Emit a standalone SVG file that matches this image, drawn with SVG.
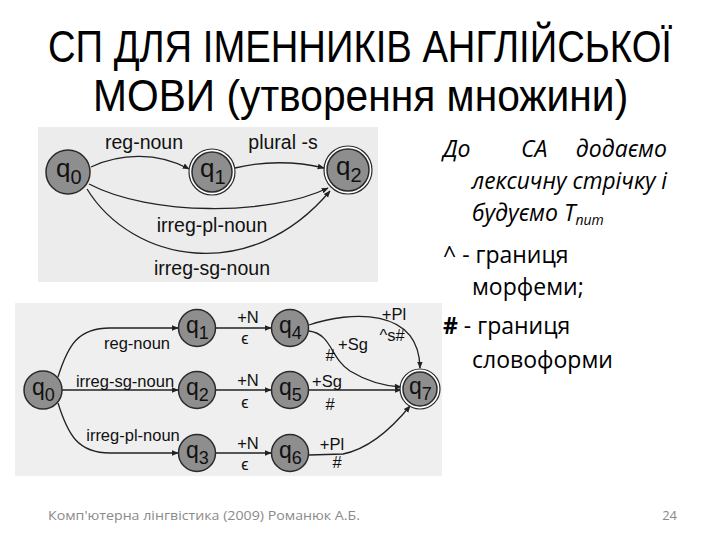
<svg xmlns="http://www.w3.org/2000/svg" width="720" height="540" viewBox="0 0 720 540">
<defs>
<marker id="ah" viewBox="0 0 10 10" refX="9" refY="5" markerWidth="7" markerHeight="7" markerUnits="userSpaceOnUse" orient="auto">
<path d="M0,1 L10,5 L0,9 z" fill="#222"/>
</marker>
<style>
.title{font-family:"Liberation Sans",Arial,sans-serif;font-size:45px;fill:#000}
.body{font-family:"Open Sans","Liberation Sans",sans-serif;font-size:23px;fill:#000}
.it{font-style:italic}
.foot{font-family:"Open Sans","Liberation Sans",sans-serif;font-size:13px;fill:#8a8a8a}
.lbl{font-family:"Liberation Sans",Arial,sans-serif;fill:#111}
.t1{font-size:19.5px}
.t2{font-size:16.5px}
.node{fill:#8e8e8e;stroke:#2a2a2a;stroke-width:1.5}
.ring{fill:#ffffff;stroke:#2a2a2a;stroke-width:1.2}
.edge{fill:none;stroke:#222;stroke-width:1.3;marker-end:url(#ah)}
.q{font-family:"Liberation Sans",Arial,sans-serif;fill:#111}
</style>
</defs>
<rect width="720" height="540" fill="#ffffff"/>

<g id="title">
<text class="title" transform="translate(48,62) scale(0.8,1)" x="0" y="0" textLength="780" lengthAdjust="spacingAndGlyphs">СП ДЛЯ ІМЕННИКІВ АНГЛІЙСЬКОЇ</text>
<text class="title" transform="translate(93,111) scale(0.8,1)" x="0" y="0" textLength="669" lengthAdjust="spacingAndGlyphs">МОВИ (утворення множини)</text>
</g>

<!-- top automaton -->
<rect x="38" y="127" width="340" height="155" fill="#ececec"/>
<g id="top-connectors">
<path class="edge" d="M91,167 C120,153 158,152 189,169"/>
<path class="edge" d="M235,168 C262,161 296,161 324,168"/>
<path class="edge" d="M89,184 C150,216 270,216 328,188"/>
<path class="edge" d="M87,189 C132,262 250,286 330,191"/>
</g>
<g id="top-labels">
<text class="lbl t1" x="144" y="149" text-anchor="middle">reg-noun</text>
<text class="lbl t1" x="283" y="149" text-anchor="middle">plural -s</text>
<text class="lbl t1" x="212" y="232" text-anchor="middle">irreg-pl-noun</text>
<text class="lbl t1" x="212" y="275" text-anchor="middle">irreg-sg-noun</text>
</g>
<g id="A-q0">
<circle class="node" cx="68" cy="172" r="22"/>
<text class="q" x="56" y="177" font-size="26">q<tspan font-size="20" dy="7">0</tspan></text>
</g>
<g id="A-q1">
<circle class="ring" cx="212" cy="172" r="23"/>
<circle class="node" cx="212" cy="172" r="20"/>
<text class="q" x="200" y="177" font-size="26">q<tspan font-size="20" dy="7">1</tspan></text>
</g>
<g id="A-q2">
<circle class="ring" cx="348" cy="170" r="24"/>
<circle class="node" cx="348" cy="170" r="21"/>
<text class="q" x="336" y="175" font-size="26">q<tspan font-size="20" dy="7">2</tspan></text>
</g>

<!-- bottom transducer -->
<rect x="15" y="303" width="427" height="173" fill="#efefef"/>
<g id="bottom-connectors">
<path class="edge" d="M58,377 C68,345 78,328 110,328 L178,328"/>
<path class="edge" d="M62,390 L178,390"/>
<path class="edge" d="M58,403 C68,435 78,453 110,453 L178,453"/>
<path class="edge" d="M216,328 L271,328"/>
<path class="edge" d="M216,390 L271,390"/>
<path class="edge" d="M216,453 L271,453"/>
<path class="edge" d="M309,325 C350,311 419,307 420,368"/>
<path class="edge" d="M309,331 C332,334 330,358 350,371 C368,382 385,386 401,387"/>
<path class="edge" d="M309,390 L401,390"/>
<path class="edge" d="M309,455 L343,454 C368,449 392,428 410,406"/>
</g>
<g id="bottom-labels">
<text class="lbl t2" x="137" y="349" text-anchor="middle">reg-noun</text>
<text class="lbl t2" x="125" y="387" text-anchor="middle">irreg-sg-noun</text>
<text class="lbl t2" x="133" y="441" text-anchor="middle">irreg-pl-noun</text>
<text class="lbl t2" x="248" y="323" text-anchor="middle">+N</text>
<text class="lbl t2" x="245" y="344" text-anchor="middle">ϵ</text>
<text class="lbl t2" x="248" y="386" text-anchor="middle">+N</text>
<text class="lbl t2" x="245" y="408" text-anchor="middle">ϵ</text>
<text class="lbl t2" x="248" y="449" text-anchor="middle">+N</text>
<text class="lbl t2" x="245" y="470" text-anchor="middle">ϵ</text>
<text class="lbl t2" x="394" y="320" text-anchor="middle">+Pl</text>
<text class="lbl t2" x="392" y="341" text-anchor="middle">^s#</text>
<text class="lbl t2" x="353" y="350" text-anchor="middle">+Sg</text>
<text class="lbl t2" x="330" y="361" text-anchor="middle">#</text>
<text class="lbl t2" x="327" y="387" text-anchor="middle">+Sg</text>
<text class="lbl t2" x="330" y="410" text-anchor="middle">#</text>
<text class="lbl t2" x="332" y="450" text-anchor="middle">+Pl</text>
<text class="lbl t2" x="337" y="468" text-anchor="middle">#</text>
</g>
<g id="B-q0">
<circle class="node" cx="43" cy="390" r="19"/>
<text class="q" x="32" y="395" font-size="23">q<tspan font-size="18" dy="6">0</tspan></text>
</g>
<g id="B-q1">
<circle class="node" cx="197" cy="328" r="18.5"/>
<text class="q" x="186" y="333" font-size="23">q<tspan font-size="18" dy="6">1</tspan></text>
</g>
<g id="B-q2">
<circle class="node" cx="197" cy="390" r="18.5"/>
<text class="q" x="186" y="395" font-size="23">q<tspan font-size="18" dy="6">2</tspan></text>
</g>
<g id="B-q3">
<circle class="node" cx="197" cy="453" r="18.5"/>
<text class="q" x="186" y="458" font-size="23">q<tspan font-size="18" dy="6">3</tspan></text>
</g>
<g id="B-q4">
<circle class="node" cx="290" cy="328" r="18.5"/>
<text class="q" x="279" y="333" font-size="23">q<tspan font-size="18" dy="6">4</tspan></text>
</g>
<g id="B-q5">
<circle class="node" cx="290" cy="390" r="18.5"/>
<text class="q" x="279" y="395" font-size="23">q<tspan font-size="18" dy="6">5</tspan></text>
</g>
<g id="B-q6">
<circle class="node" cx="290" cy="453" r="18.5"/>
<text class="q" x="279" y="458" font-size="23">q<tspan font-size="18" dy="6">6</tspan></text>
</g>
<g id="B-q7">
<circle class="ring" cx="420" cy="389" r="20"/>
<circle class="node" cx="420" cy="389" r="17"/>
<text class="q" x="409" y="394" font-size="23">q<tspan font-size="18" dy="6">7</tspan></text>
</g>

<g id="notes">
<text class="body it" x="443" y="157">До</text>
<text class="body it" x="521" y="157">СА</text>
<text class="body it" x="667" y="157" text-anchor="end">додаємо</text>
<text class="body it" x="472" y="189" textLength="195" lengthAdjust="spacingAndGlyphs">лексичну стрічку і</text>
<text class="body it" x="472" y="221">будуємо T<tspan font-size="14" dy="4">num</tspan></text>
<text class="body" x="443" y="263">^ - границя</text>
<text class="body" x="472" y="295">морфеми;</text>
<text class="body" x="443" y="334"><tspan font-weight="bold">#</tspan> - границя</text>
<text class="body" x="472" y="368">словоформи</text>
</g>

<g id="footer">
<text class="foot" x="48" y="520" textLength="312" lengthAdjust="spacingAndGlyphs">Комп'ютерна лінгвістика (2009) Романюк А.Б.</text>
<text class="foot" x="677" y="520" text-anchor="end">24</text>
</g>
</svg>
